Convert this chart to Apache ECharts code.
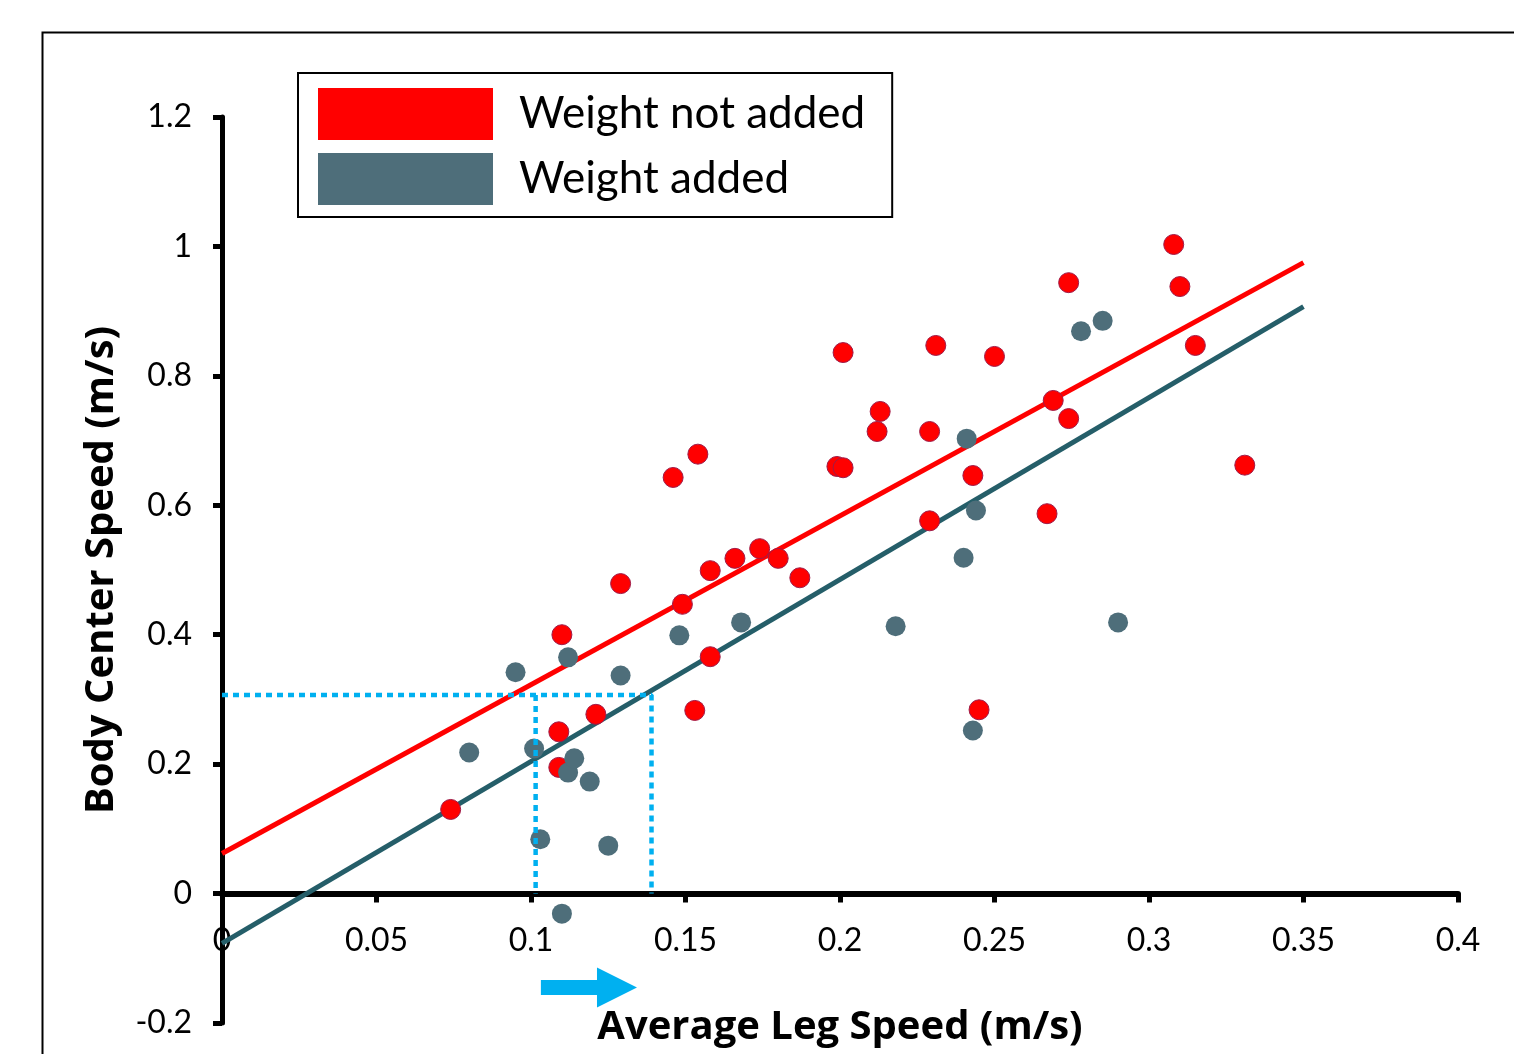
<!DOCTYPE html>
<html>
<head>
<meta charset="utf-8">
<title>Body Center Speed vs Average Leg Speed</title>
<script src="https://cdn.jsdelivr.net/npm/echarts@6/dist/echarts.min.js"></script>
<style>
	html, body { margin: 0; padding: 0; background: #fff; }
	#chart { width: 1514px; height: 1054px; }
</style>
</head>
<body>
<div id="chart"></div>
<script>
	// Weight not added (red points)
	var notAddedLeg  = [0.074, 0.109, 0.109, 0.110, 0.121, 0.129, 0.146, 0.149, 0.154, 0.153, 0.158, 0.158, 0.166, 0.174, 0.180, 0.187, 0.199, 0.201, 0.201, 0.212, 0.213, 0.229, 0.229, 0.231, 0.243, 0.245, 0.250, 0.267, 0.269, 0.274, 0.274, 0.308, 0.310, 0.315, 0.331];
	var notAddedBody = [0.130, 0.250, 0.195, 0.400, 0.277, 0.479, 0.643, 0.447, 0.679, 0.283, 0.499, 0.366, 0.518, 0.533, 0.518, 0.488, 0.660, 0.658, 0.836, 0.714, 0.745, 0.714, 0.576, 0.847, 0.646, 0.284, 0.830, 0.587, 0.762, 0.734, 0.944, 1.003, 0.938, 0.847, 0.662];

	// Weight added (grey points)
	var addedLeg  = [0.080, 0.095, 0.101, 0.103, 0.110, 0.112, 0.112, 0.114, 0.119, 0.125, 0.129, 0.148, 0.168, 0.218, 0.240, 0.241, 0.243, 0.244, 0.278, 0.285, 0.290];
	var addedBody = [0.218, 0.342, 0.224, 0.084, -0.031, 0.365, 0.187, 0.209, 0.173, 0.074, 0.337, 0.399, 0.419, 0.413, 0.519, 0.703, 0.252, 0.592, 0.869, 0.885, 0.419];

	// trend lines (end points)
	var notAddedFitX = [0, 0.35];
	var notAddedFitY = [0.062, 0.975];
	var addedFitX = [0, 0.35];
	var addedFitY = [-0.077, 0.907];

	// dotted guide lines
	var guideLevel = 0.307;
	var guideLeft = 0.1015;
	var guideRight = 0.139;

	// arrow under the x axis
	var arrowFrom = 0.1032;
	var arrowTo = 0.1343;
	var arrowLevel = -0.145;

	// axes
	var xMin = 0, xMax = 0.4, xStep = 0.05;
	var yMin = -0.2, yMax = 1.2, yStep = 0.2;
	var legendNames = ['Weight not added', 'Weight added'];

	function zip(xs, ys) {
		var out = [];
		for (var i = 0; i < xs.length; i++) {
			out.push([xs[i], ys[i]]);
		}
		return out;
	}

	var font = 'Lato';
	var nameFont = 'Open Sans';
	var gridTop = 117, gridBottom = 31;
	var gridHeight = 1054 - gridTop - gridBottom;
	// x axis sits on y = 0, not on the grid bottom
	var xAxisOffset = -gridHeight * (0 - yMin) / (yMax - yMin);

	var chart = echarts.init(document.getElementById('chart'));

	chart.setOption({
		animation: false,
		textStyle: { fontFamily: font },
		grid: { left: 222, right: 56, top: gridTop, bottom: gridBottom, containLabel: false, outerBoundsMode: 'none' },
		legend: {
			data: legendNames,
			orient: 'vertical',
			left: 298,
			top: 73,
			icon: 'rect',
			itemWidth: 175,
			itemHeight: 52,
			itemGap: 13,
			padding: [15, 27, 12, 20],
			borderColor: '#000',
			borderWidth: 2,
			borderRadius: 0,
			backgroundColor: '#fff',
			itemStyle: { borderWidth: 0 },
			textStyle: { fontSize: 44, color: '#000', fontFamily: font, padding: [2, 0, 0, 21] }
		},
		xAxis: {
			type: 'value',
			min: xMin,
			max: xMax,
			interval: xStep,
			offset: xAxisOffset,
			name: 'Average Leg Speed (m/s)',
			nameLocation: 'middle',
			nameGap: 114,
			nameTextStyle: { fontSize: 40, fontWeight: 'bold', color: '#000', fontFamily: nameFont },
			axisLine: { onZero: false, lineStyle: { color: '#000', width: 6 } },
			axisTick: { show: true, length: 9, lineStyle: { color: '#000', width: 5 } },
			axisLabel: { fontSize: 32, color: '#000', margin: 31, fontFamily: font },
			splitLine: { show: false }
		},
		yAxis: {
			type: 'value',
			min: yMin,
			max: yMax,
			interval: yStep,
			name: 'Body Center Speed (m/s)',
			nameLocation: 'middle',
			nameGap: 100,
			nameTextStyle: { fontSize: 40, fontWeight: 'bold', color: '#000', fontFamily: nameFont },
			axisLine: { onZero: false, lineStyle: { color: '#000', width: 5 } },
			axisTick: { show: true, length: 9, lineStyle: { color: '#000', width: 5 } },
			axisLabel: { fontSize: 32, color: '#000', margin: 30, fontFamily: font },
			splitLine: { show: false }
		},
		series: [
			{
				name: 'fit not added',
				type: 'line',
				data: zip(notAddedFitX, notAddedFitY),
				symbol: 'none',
				z: 2,
				lineStyle: { color: '#ff0000', width: 5 }
			},
			{
				name: 'fit added',
				type: 'line',
				data: zip(addedFitX, addedFitY),
				symbol: 'none',
				z: 2,
				lineStyle: { color: '#255e69', width: 5 }
			},
			{
				name: legendNames[0],
				type: 'scatter',
				data: zip(notAddedLeg, notAddedBody),
				symbolSize: 20,
				z: 3,
				itemStyle: { color: '#ff0000', borderColor: '#9e1b48', borderWidth: 1, opacity: 1 }
			},
			{
				name: legendNames[1],
				type: 'scatter',
				data: zip(addedLeg, addedBody),
				symbolSize: 20,
				z: 3,
				itemStyle: { color: '#4e6e7a', opacity: 1 }
			},
			{
				name: 'guide 1',
				type: 'line',
				data: [[xMin, guideLevel], [guideRight, guideLevel], [guideRight, 0]],
				symbol: 'none',
				z: 4,
				lineStyle: { color: '#00b0f0', width: 4.5, type: [6, 5] }
			},
			{
				name: 'guide 2',
				type: 'line',
				data: [[guideLeft, guideLevel], [guideLeft, 0]],
				symbol: 'none',
				z: 4,
				lineStyle: { color: '#00b0f0', width: 4.5, type: [6, 5] }
			}
		]
	});

	// frame and arrow, placed from the axes
	var a0 = chart.convertToPixel({ gridIndex: 0 }, [arrowFrom, arrowLevel]);
	var a1 = chart.convertToPixel({ gridIndex: 0 }, [arrowTo, arrowLevel]);
	var c = a0[1];
	var hx = a1[0] - 40;
	chart.setOption({
		graphic: [
			{
				type: 'rect',
				left: 40,
				top: 30,
				shape: { width: 1540, height: 1080 },
				style: { fill: 'none', stroke: '#000', lineWidth: 2 },
				silent: true
			},
			{
				type: 'polygon',
				shape: {
					points: [
						[a0[0], c - 7.5], [hx, c - 7.5], [hx, c - 20], [a1[0], c],
						[hx, c + 20], [hx, c + 7.5], [a0[0], c + 7.5]
					]
				},
				style: { fill: '#00b0f0' },
				silent: true
			}
		]
	});
</script>
</body>
</html>
